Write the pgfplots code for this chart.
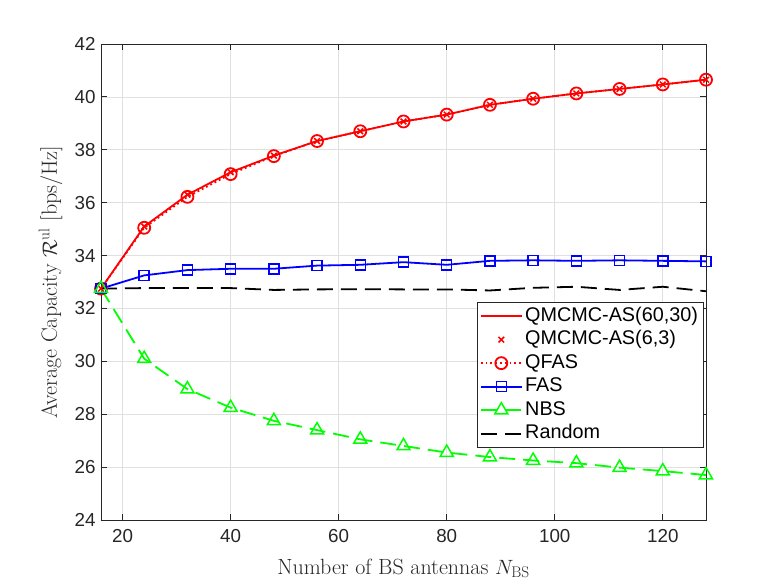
\documentclass[border=0pt]{standalone}
\usepackage{fontspec}
\usepackage{pgfplots}
\pgfplotsset{compat=1.18}
\newfontfamily\hel{Liberation Sans}
\definecolor{axgray}{rgb}{0.15,0.15,0.15}
\definecolor{gridgray}{rgb}{0.88,0.88,0.88}
\pgfplotstableread{
x qmc60 qfas fas nbs rnd
16  32.75 32.75 32.75 32.75 32.75
24  35.10 35.05 33.25 30.10 32.77
32  36.30 36.22 33.45 28.95 32.77
40  37.15 37.08 33.50 28.25 32.77
48  37.78 37.76 33.50 27.75 32.70
56  38.33 38.33 33.62 27.40 32.72
64  38.70 38.70 33.65 27.05 32.73
72  39.07 39.07 33.75 26.80 32.72
80  39.33 39.33 33.65 26.55 32.72
88  39.70 39.70 33.80 26.38 32.68
96  39.93 39.93 33.82 26.25 32.78
104 40.13 40.13 33.80 26.15 32.82
112 40.30 40.30 33.82 25.98 32.70
120 40.47 40.47 33.80 25.85 32.82
128 40.65 40.65 33.78 25.70 32.65
}\data
\begin{document}
\begin{tikzpicture}
\begin{axis}[
  at={(0,0)}, anchor=south west,
  scale only axis, width=605bp, height=476bp,
  xmin=16, xmax=128, ymin=24, ymax=42,
  xtick={20,40,...,120}, ytick={24,26,...,42},
  grid=major, major grid style={gridgray, line width=0.6bp},
  axis line style={axgray, line width=0.8bp},
  tick style={axgray, line width=0.8bp},
  tick align=inside, major tick length=6bp, tick pos=both,
  /pgf/number format/assume math mode=true,
  ticklabel style={font=\hel\fontsize{18.8bp}{20bp}\selectfont, text=axgray},
  xticklabel style={yshift=-6bp},
  yticklabel style={xshift=-2bp},
  xlabel={Number of BS antennas $N_{\mathrm{BS}}$},
  ylabel={Average Capacity $\mathcal{R}^{\mathrm{ul}}$ [bps/Hz]},
  label style={font=\fontsize{22bp}{24bp}\selectfont, text=axgray},
  xlabel style={at={([yshift=-54bp]rel axis cs:0.5,0)}, anchor=base},
  ylabel style={at={([xshift=-44bp]rel axis cs:0,0.5)}, anchor=base, rotate=0},
  legend cell align=left,
  legend style={at={(0.6215,0.458)}, anchor=north west, draw=axgray, line width=0.8bp,
    font=\hel\fontsize{19.8bp}{21bp}\selectfont, inner xsep=2.5bp, inner ysep=2bp,
    row sep=0bp,
    nodes={inner xsep=2.5bp, inner ysep=2bp, text height=15bp, text depth=4.5bp}},
  legend image code/.code={\draw[mark repeat=2,mark phase=2,#1] plot coordinates {(0bp,0bp) (20.5bp,0bp) (41bp,0bp)};},
]
\addplot[red, line width=1.8bp] table[x=x,y=qmc60] {\data};
\addlegendentry{QMCMC-AS(60,30)\hspace{8bp}}
\addplot[red, only marks, mark=x, mark size=4bp, mark options={line width=1.5bp}] table[x=x,y=qmc60] {\data};
\addlegendentry{QMCMC-AS(6,3)}
\addplot[red, line width=1.8bp, dash pattern=on 1.8bp off 3bp, mark=o, mark size=6bp, mark options={solid, line width=1.8bp}] table[x=x,y=qfas] {\data};
\addlegendentry{QFAS}
\addplot[blue, line width=1.8bp, mark=square, mark size=5bp, mark options={solid, line width=1.5bp}] table[x=x,y=fas] {\data};
\addlegendentry{FAS}
\addplot[green, line width=1.8bp, dash pattern=on 16bp off 8bp, mark=triangle, mark size=7.5bp, mark options={solid, line width=1.5bp}] table[x=x,y=nbs] {\data};
\addlegendentry{NBS}
\addplot[black, line width=1.8bp, dash pattern=on 16bp off 8bp] table[x=x,y=rnd] {\data};
\addlegendentry{Random}
\end{axis}
\pgfresetboundingbox
\path[use as bounding box] (-101bp,-64bp) rectangle (677bp,520bp);
\end{tikzpicture}
\end{document}
